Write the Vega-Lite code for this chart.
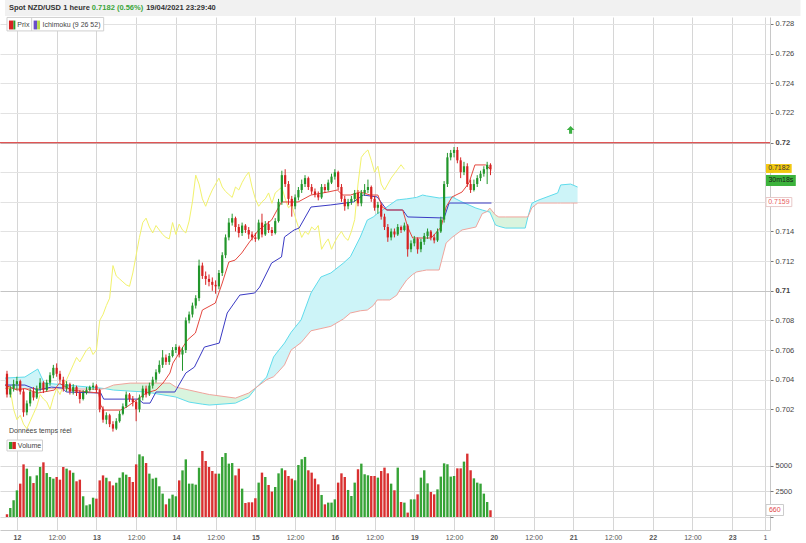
{
"$schema": "https://vega.github.io/schema/vega-lite/v6.json",
"width": 770, "height": 513,
"autosize": "none",
"padding": {"left": 0, "top": 17, "right": 36, "bottom": 13},
"background": "white",
"config": {"view": {"stroke": null}, "font": "Liberation Sans", "axis": {"labelOverlap": false, "labelSeparation": 0}},
"datasets": {
"candles": [
{"t":-3,"o":0.7044,"h":0.7046,"l":0.7028,"c":0.703,"v":270},
{"t":-2,"o":0.703,"h":0.7036,"l":0.7028,"c":0.7034,"v":880},
{"t":-1,"o":0.7034,"h":0.704,"l":0.7032,"c":0.7037,"v":1630},
{"t":0,"o":0.7037,"h":0.7042,"l":0.7033,"c":0.7039,"v":2610},
{"t":1,"o":0.7039,"h":0.704,"l":0.703,"c":0.7032,"v":3270},
{"t":2,"o":0.7032,"h":0.7034,"l":0.7015,"c":0.7018,"v":5160},
{"t":3,"o":0.7018,"h":0.7026,"l":0.7016,"c":0.7024,"v":4740},
{"t":4,"o":0.7024,"h":0.7034,"l":0.7022,"c":0.7032,"v":3990},
{"t":5,"o":0.7032,"h":0.7035,"l":0.7026,"c":0.7028,"v":3330},
{"t":6,"o":0.7028,"h":0.7036,"l":0.7027,"c":0.7034,"v":4080},
{"t":7,"o":0.7034,"h":0.7041,"l":0.7032,"c":0.7038,"v":4900},
{"t":8,"o":0.7038,"h":0.7039,"l":0.7031,"c":0.7033,"v":5360},
{"t":9,"o":0.7033,"h":0.704,"l":0.7032,"c":0.7038,"v":4310},
{"t":10,"o":0.7038,"h":0.7045,"l":0.7036,"c":0.7043,"v":3920},
{"t":11,"o":0.7043,"h":0.705,"l":0.7041,"c":0.7048,"v":3760},
{"t":12,"o":0.7048,"h":0.7051,"l":0.7042,"c":0.7044,"v":3920},
{"t":13,"o":0.7044,"h":0.7046,"l":0.7038,"c":0.704,"v":3660},
{"t":14,"o":0.704,"h":0.7042,"l":0.7032,"c":0.7034,"v":4900},
{"t":15,"o":0.7034,"h":0.7039,"l":0.7032,"c":0.7037,"v":4740},
{"t":16,"o":0.7037,"h":0.7038,"l":0.703,"c":0.7032,"v":4570},
{"t":17,"o":0.7032,"h":0.7037,"l":0.703,"c":0.7035,"v":4340},
{"t":18,"o":0.7035,"h":0.7036,"l":0.7029,"c":0.7031,"v":3500},
{"t":19,"o":0.7031,"h":0.7033,"l":0.7024,"c":0.7027,"v":3660},
{"t":20,"o":0.7027,"h":0.7033,"l":0.7026,"c":0.7031,"v":2030},
{"t":21,"o":0.7031,"h":0.7035,"l":0.703,"c":0.7033,"v":1140},
{"t":22,"o":0.7033,"h":0.7036,"l":0.7032,"c":0.7035,"v":1240},
{"t":23,"o":0.7035,"h":0.7038,"l":0.7033,"c":0.7036,"v":1890},
{"t":24,"o":0.7036,"h":0.7037,"l":0.7031,"c":0.7033,"v":1800},
{"t":25,"o":0.7033,"h":0.7034,"l":0.7018,"c":0.702,"v":3590},
{"t":26,"o":0.702,"h":0.7022,"l":0.7011,"c":0.7013,"v":4080},
{"t":27,"o":0.7013,"h":0.7018,"l":0.701,"c":0.7016,"v":3850},
{"t":28,"o":0.7016,"h":0.7017,"l":0.7008,"c":0.701,"v":3500},
{"t":29,"o":0.701,"h":0.7012,"l":0.7005,"c":0.7007,"v":3100},
{"t":30,"o":0.7007,"h":0.7014,"l":0.7006,"c":0.7012,"v":3360},
{"t":31,"o":0.7012,"h":0.7019,"l":0.7011,"c":0.7017,"v":3850},
{"t":32,"o":0.7017,"h":0.7024,"l":0.7016,"c":0.7022,"v":4380},
{"t":33,"o":0.7022,"h":0.7032,"l":0.7021,"c":0.703,"v":4150},
{"t":34,"o":0.703,"h":0.7031,"l":0.7025,"c":0.7027,"v":3920},
{"t":35,"o":0.7027,"h":0.7029,"l":0.7022,"c":0.7025,"v":3430},
{"t":36,"o":0.7025,"h":0.7026,"l":0.7012,"c":0.702,"v":5160},
{"t":37,"o":0.702,"h":0.703,"l":0.7018,"c":0.7028,"v":6140},
{"t":38,"o":0.7028,"h":0.7036,"l":0.7026,"c":0.7034,"v":5950},
{"t":39,"o":0.7034,"h":0.7036,"l":0.7028,"c":0.703,"v":5290},
{"t":40,"o":0.703,"h":0.7038,"l":0.7029,"c":0.7036,"v":4250},
{"t":41,"o":0.7036,"h":0.7042,"l":0.7034,"c":0.704,"v":3760},
{"t":42,"o":0.704,"h":0.7047,"l":0.7038,"c":0.7045,"v":3850},
{"t":43,"o":0.7045,"h":0.7053,"l":0.7044,"c":0.705,"v":3010},
{"t":44,"o":0.705,"h":0.706,"l":0.7048,"c":0.7055,"v":2290},
{"t":45,"o":0.7055,"h":0.7057,"l":0.705,"c":0.7052,"v":1240},
{"t":46,"o":0.7052,"h":0.7058,"l":0.705,"c":0.7056,"v":1800},
{"t":47,"o":0.7056,"h":0.7062,"l":0.7055,"c":0.706,"v":2190},
{"t":48,"o":0.706,"h":0.7064,"l":0.7058,"c":0.7062,"v":2030},
{"t":49,"o":0.7062,"h":0.7063,"l":0.7055,"c":0.7057,"v":3590},
{"t":50,"o":0.7057,"h":0.7062,"l":0.7046,"c":0.706,"v":4570},
{"t":51,"o":0.706,"h":0.7082,"l":0.7058,"c":0.708,"v":5650},
{"t":52,"o":0.708,"h":0.7086,"l":0.7078,"c":0.7084,"v":3270},
{"t":53,"o":0.7084,"h":0.7092,"l":0.7082,"c":0.709,"v":3270},
{"t":54,"o":0.709,"h":0.7097,"l":0.7088,"c":0.7095,"v":3170},
{"t":55,"o":0.7095,"h":0.7121,"l":0.7093,"c":0.7117,"v":4830},
{"t":56,"o":0.7117,"h":0.7119,"l":0.7108,"c":0.711,"v":6470},
{"t":57,"o":0.711,"h":0.7113,"l":0.7104,"c":0.7108,"v":5490},
{"t":58,"o":0.7108,"h":0.7111,"l":0.7103,"c":0.7106,"v":4900},
{"t":59,"o":0.7106,"h":0.7109,"l":0.71,"c":0.7104,"v":4510},
{"t":60,"o":0.7104,"h":0.7107,"l":0.7098,"c":0.7103,"v":4250},
{"t":61,"o":0.7103,"h":0.7114,"l":0.7101,"c":0.7112,"v":4250},
{"t":62,"o":0.7112,"h":0.7126,"l":0.711,"c":0.7124,"v":5880},
{"t":63,"o":0.7124,"h":0.7138,"l":0.7122,"c":0.7136,"v":6270},
{"t":64,"o":0.7136,"h":0.7149,"l":0.7134,"c":0.7146,"v":5230},
{"t":65,"o":0.7146,"h":0.7152,"l":0.7144,"c":0.7149,"v":5290},
{"t":66,"o":0.7149,"h":0.715,"l":0.714,"c":0.7143,"v":4080},
{"t":67,"o":0.7143,"h":0.7145,"l":0.7136,"c":0.7139,"v":4740},
{"t":68,"o":0.7139,"h":0.7146,"l":0.7137,"c":0.7144,"v":2780},
{"t":69,"o":0.7144,"h":0.7145,"l":0.7139,"c":0.7141,"v":1370},
{"t":70,"o":0.7141,"h":0.7143,"l":0.7135,"c":0.7138,"v":1440},
{"t":71,"o":0.7138,"h":0.714,"l":0.7134,"c":0.7136,"v":1440},
{"t":72,"o":0.7136,"h":0.7139,"l":0.7133,"c":0.7135,"v":1830},
{"t":73,"o":0.7135,"h":0.7148,"l":0.7134,"c":0.7146,"v":3370},
{"t":74,"o":0.7146,"h":0.7152,"l":0.7136,"c":0.7138,"v":4350},
{"t":75,"o":0.7138,"h":0.7147,"l":0.7137,"c":0.7145,"v":3920},
{"t":76,"o":0.7145,"h":0.7147,"l":0.7139,"c":0.7141,"v":3140},
{"t":77,"o":0.7141,"h":0.7143,"l":0.7137,"c":0.7139,"v":2490},
{"t":78,"o":0.7139,"h":0.7149,"l":0.7138,"c":0.7147,"v":2940},
{"t":79,"o":0.7147,"h":0.7162,"l":0.7146,"c":0.716,"v":4280},
{"t":80,"o":0.716,"h":0.7181,"l":0.7158,"c":0.7178,"v":4770},
{"t":81,"o":0.7178,"h":0.7182,"l":0.717,"c":0.7172,"v":4580},
{"t":82,"o":0.7172,"h":0.7174,"l":0.7158,"c":0.7162,"v":4020},
{"t":83,"o":0.7162,"h":0.7164,"l":0.715,"c":0.7157,"v":3760},
{"t":84,"o":0.7157,"h":0.7165,"l":0.7155,"c":0.7163,"v":3600},
{"t":85,"o":0.7163,"h":0.717,"l":0.7161,"c":0.7168,"v":5100},
{"t":86,"o":0.7168,"h":0.7175,"l":0.7166,"c":0.7172,"v":5660},
{"t":87,"o":0.7172,"h":0.7178,"l":0.717,"c":0.7176,"v":5890},
{"t":88,"o":0.7176,"h":0.7177,"l":0.7168,"c":0.717,"v":4580},
{"t":89,"o":0.717,"h":0.7172,"l":0.7165,"c":0.7167,"v":4350},
{"t":90,"o":0.7167,"h":0.7169,"l":0.7163,"c":0.7165,"v":3760},
{"t":91,"o":0.7165,"h":0.7167,"l":0.7161,"c":0.7163,"v":3200},
{"t":92,"o":0.7163,"h":0.7172,"l":0.7162,"c":0.717,"v":2160},
{"t":93,"o":0.717,"h":0.7172,"l":0.7166,"c":0.7168,"v":1240},
{"t":94,"o":0.7168,"h":0.7175,"l":0.7167,"c":0.7173,"v":1410},
{"t":95,"o":0.7173,"h":0.7179,"l":0.7172,"c":0.7177,"v":1410},
{"t":96,"o":0.7177,"h":0.7182,"l":0.7175,"c":0.718,"v":1730},
{"t":97,"o":0.718,"h":0.7181,"l":0.7168,"c":0.717,"v":3370},
{"t":98,"o":0.717,"h":0.7172,"l":0.716,"c":0.7162,"v":4280},
{"t":99,"o":0.7162,"h":0.7164,"l":0.7154,"c":0.7157,"v":3920},
{"t":100,"o":0.7157,"h":0.7162,"l":0.7155,"c":0.716,"v":2650},
{"t":101,"o":0.716,"h":0.7164,"l":0.7158,"c":0.7162,"v":2060},
{"t":102,"o":0.7162,"h":0.7168,"l":0.716,"c":0.7166,"v":3370},
{"t":103,"o":0.7166,"h":0.7168,"l":0.7157,"c":0.7159,"v":4680},
{"t":104,"o":0.7159,"h":0.7168,"l":0.7157,"c":0.7166,"v":5230},
{"t":105,"o":0.7166,"h":0.7172,"l":0.7164,"c":0.7168,"v":4190},
{"t":106,"o":0.7168,"h":0.7175,"l":0.7166,"c":0.717,"v":4090},
{"t":107,"o":0.717,"h":0.7171,"l":0.716,"c":0.7162,"v":4020},
{"t":108,"o":0.7162,"h":0.7164,"l":0.7154,"c":0.7156,"v":4020},
{"t":109,"o":0.7156,"h":0.716,"l":0.7152,"c":0.7158,"v":3860},
{"t":110,"o":0.7158,"h":0.7159,"l":0.7148,"c":0.715,"v":4510},
{"t":111,"o":0.715,"h":0.7152,"l":0.7141,"c":0.7143,"v":4840},
{"t":112,"o":0.7143,"h":0.7145,"l":0.7133,"c":0.7136,"v":4280},
{"t":113,"o":0.7136,"h":0.7142,"l":0.7134,"c":0.714,"v":3270},
{"t":114,"o":0.714,"h":0.7142,"l":0.7136,"c":0.7138,"v":2620},
{"t":115,"o":0.7138,"h":0.7145,"l":0.7137,"c":0.7143,"v":4840},
{"t":116,"o":0.7143,"h":0.7144,"l":0.7139,"c":0.7141,"v":1470},
{"t":117,"o":0.7141,"h":0.7146,"l":0.714,"c":0.7144,"v":1410},
{"t":118,"o":0.7144,"h":0.7145,"l":0.7123,"c":0.7128,"v":430},
{"t":119,"o":0.7128,"h":0.7134,"l":0.7126,"c":0.7132,"v":1730},
{"t":120,"o":0.7132,"h":0.7137,"l":0.713,"c":0.7135,"v":1730},
{"t":121,"o":0.7135,"h":0.7136,"l":0.7125,"c":0.7128,"v":2220},
{"t":122,"o":0.7128,"h":0.7135,"l":0.7126,"c":0.7133,"v":3860},
{"t":123,"o":0.7133,"h":0.7139,"l":0.7131,"c":0.7137,"v":4580},
{"t":124,"o":0.7137,"h":0.7142,"l":0.7135,"c":0.714,"v":3300},
{"t":125,"o":0.714,"h":0.7141,"l":0.7134,"c":0.7136,"v":2450},
{"t":126,"o":0.7136,"h":0.7138,"l":0.7132,"c":0.7134,"v":2220},
{"t":127,"o":0.7134,"h":0.7142,"l":0.7133,"c":0.714,"v":2710},
{"t":128,"o":0.714,"h":0.715,"l":0.7139,"c":0.7148,"v":3960},
{"t":129,"o":0.7148,"h":0.7174,"l":0.7146,"c":0.7172,"v":5260},
{"t":130,"o":0.7172,"h":0.7193,"l":0.717,"c":0.719,"v":5170},
{"t":131,"o":0.719,"h":0.7195,"l":0.7188,"c":0.7193,"v":3960},
{"t":132,"o":0.7193,"h":0.7197,"l":0.719,"c":0.7195,"v":4020},
{"t":133,"o":0.7195,"h":0.7197,"l":0.7186,"c":0.7188,"v":4770},
{"t":134,"o":0.7188,"h":0.719,"l":0.7176,"c":0.718,"v":4770},
{"t":135,"o":0.718,"h":0.7187,"l":0.7178,"c":0.7184,"v":5430},
{"t":136,"o":0.7184,"h":0.7186,"l":0.717,"c":0.7172,"v":6210},
{"t":137,"o":0.7172,"h":0.7175,"l":0.7166,"c":0.7168,"v":4580},
{"t":138,"o":0.7168,"h":0.7175,"l":0.7167,"c":0.7172,"v":3790},
{"t":139,"o":0.7172,"h":0.7178,"l":0.717,"c":0.7176,"v":3370},
{"t":140,"o":0.7176,"h":0.7181,"l":0.7174,"c":0.7179,"v":3270},
{"t":141,"o":0.7179,"h":0.7184,"l":0.7177,"c":0.7182,"v":2290},
{"t":142,"o":0.7182,"h":0.7187,"l":0.7172,"c":0.7185,"v":1470},
{"t":143,"o":0.7185,"h":0.7186,"l":0.7178,"c":0.7182,"v":660}
],
"chikou": [
{"t":-3,"p":0.7036},{"t":-2,"p":0.7033},{"t":-1,"p":0.702},{"t":0,"p":0.7013},{"t":1,"p":0.7016},{"t":2,"p":0.701},{"t":3,"p":0.7007},{"t":4,"p":0.7012},{"t":5,"p":0.7017},{"t":6,"p":0.7022},{"t":7,"p":0.703},{"t":8,"p":0.7027},{"t":9,"p":0.7025},{"t":10,"p":0.702},{"t":11,"p":0.7028},{"t":12,"p":0.7034},{"t":13,"p":0.703},{"t":14,"p":0.7036},{"t":15,"p":0.704},{"t":16,"p":0.7045},{"t":17,"p":0.705},{"t":18,"p":0.7055},{"t":19,"p":0.7052},{"t":20,"p":0.7056},{"t":21,"p":0.706},{"t":22,"p":0.7062},{"t":23,"p":0.7057},{"t":24,"p":0.706},{"t":25,"p":0.708},{"t":26,"p":0.7084},{"t":27,"p":0.709},{"t":28,"p":0.7095},{"t":29,"p":0.7117},{"t":30,"p":0.711},{"t":31,"p":0.7108},{"t":32,"p":0.7106},{"t":33,"p":0.7104},{"t":34,"p":0.7103},{"t":35,"p":0.7112},{"t":36,"p":0.7124},{"t":37,"p":0.7136},{"t":38,"p":0.7146},{"t":39,"p":0.7149},{"t":40,"p":0.7143},{"t":41,"p":0.7139},{"t":42,"p":0.7144},{"t":43,"p":0.7141},{"t":44,"p":0.7138},{"t":45,"p":0.7136},{"t":46,"p":0.7135},{"t":47,"p":0.7146},{"t":48,"p":0.7138},{"t":49,"p":0.7145},{"t":50,"p":0.7141},{"t":51,"p":0.7139},{"t":52,"p":0.7147},{"t":53,"p":0.716},{"t":54,"p":0.7178},{"t":55,"p":0.7172},{"t":56,"p":0.7162},{"t":57,"p":0.7157},{"t":58,"p":0.7163},{"t":59,"p":0.7168},{"t":60,"p":0.7172},{"t":61,"p":0.7176},{"t":62,"p":0.717},{"t":63,"p":0.7167},{"t":64,"p":0.7165},{"t":65,"p":0.7163},{"t":66,"p":0.717},{"t":67,"p":0.7168},{"t":68,"p":0.7173},{"t":69,"p":0.7177},{"t":70,"p":0.718},{"t":71,"p":0.717},{"t":72,"p":0.7162},{"t":73,"p":0.7157},{"t":74,"p":0.716},{"t":75,"p":0.7162},{"t":76,"p":0.7166},{"t":77,"p":0.7159},{"t":78,"p":0.7166},{"t":79,"p":0.7168},{"t":80,"p":0.717},{"t":81,"p":0.7162},{"t":82,"p":0.7156},{"t":83,"p":0.7158},{"t":84,"p":0.715},{"t":85,"p":0.7143},{"t":86,"p":0.7136},{"t":87,"p":0.714},{"t":88,"p":0.7138},{"t":89,"p":0.7143},{"t":90,"p":0.7141},{"t":91,"p":0.7144},{"t":92,"p":0.7128},{"t":93,"p":0.7132},{"t":94,"p":0.7135},{"t":95,"p":0.7128},{"t":96,"p":0.7133},{"t":97,"p":0.7137},{"t":98,"p":0.714},{"t":99,"p":0.7136},{"t":100,"p":0.7134},{"t":101,"p":0.714},{"t":102,"p":0.7148},{"t":103,"p":0.7172},{"t":104,"p":0.719},{"t":105,"p":0.7193},{"t":106,"p":0.7195},{"t":107,"p":0.7188},{"t":108,"p":0.718},{"t":109,"p":0.7184},{"t":110,"p":0.7172},{"t":111,"p":0.7168},{"t":112,"p":0.7172},{"t":113,"p":0.7176},{"t":114,"p":0.7179},{"t":115,"p":0.7182},{"t":116,"p":0.7185},{"t":117,"p":0.7182}
],
"tenkan": [
{"t":-3.6,"p":0.70364},{"t":0,"p":0.7033},{"t":2.4,"p":0.7034},{"t":6.3,"p":0.7031},{"t":11.3,"p":0.7033},{"t":12.8,"p":0.70377},{"t":16.4,"p":0.7033},{"t":24.7,"p":0.7031},{"t":25.3,"p":0.70229},{"t":26.2,"p":0.70195},{"t":31.3,"p":0.70195},{"t":33.1,"p":0.70215},{"t":36.1,"p":0.70263},{"t":39,"p":0.7031},{"t":42,"p":0.7033},{"t":44.1,"p":0.70377},{"t":46.2,"p":0.70445},{"t":47.1,"p":0.70512},{"t":50.1,"p":0.7062},{"t":51.5,"p":0.70668},{"t":53.9,"p":0.70715},{"t":56,"p":0.7087},{"t":59.9,"p":0.70917},{"t":62,"p":0.71052},{"t":64,"p":0.71194},{"t":65.9,"p":0.71207},{"t":67.9,"p":0.71255},{"t":70,"p":0.71322},{"t":73,"p":0.7141},{"t":76.9,"p":0.71477},{"t":79.9,"p":0.71599},{"t":84.9,"p":0.71599},{"t":88.8,"p":0.71646},{"t":93.9,"p":0.71666},{"t":96.8,"p":0.7168},{"t":98.3,"p":0.71646},{"t":100.7,"p":0.71646},{"t":103.7,"p":0.71666},{"t":106.7,"p":0.71646},{"t":109,"p":0.71646},{"t":110.3,"p":0.71565},{"t":111.7,"p":0.71545},{"t":116.5,"p":0.71545},{"t":118,"p":0.7143},{"t":119.5,"p":0.71356},{"t":125.1,"p":0.71356},{"t":128.1,"p":0.7143},{"t":129.6,"p":0.71565},{"t":131.4,"p":0.71633},{"t":134.4,"p":0.71666},{"t":136.5,"p":0.71727},{"t":138.3,"p":0.71849},{"t":141.5,"p":0.71849},{"t":143.3,"p":0.71815}
],
"kijun": [
{"t":-3.6,"p":0.70364},{"t":2.4,"p":0.70364},{"t":6.3,"p":0.7033},{"t":10.4,"p":0.7035},{"t":13.7,"p":0.70344},{"t":14.9,"p":0.70317},{"t":25.3,"p":0.7031},{"t":26.2,"p":0.70269},{"t":36.7,"p":0.70269},{"t":38.1,"p":0.70242},{"t":40.2,"p":0.70242},{"t":42,"p":0.70317},{"t":47.7,"p":0.70317},{"t":51,"p":0.70445},{"t":53.6,"p":0.70485},{"t":56.6,"p":0.7062},{"t":61.1,"p":0.70647},{"t":63.5,"p":0.7085},{"t":67.3,"p":0.70971},{"t":71.8,"p":0.70985},{"t":73.3,"p":0.71025},{"t":76.9,"p":0.71187},{"t":79.9,"p":0.71228},{"t":80.8,"p":0.71363},{"t":83.7,"p":0.7141},{"t":85.2,"p":0.71423},{"t":88.8,"p":0.71565},{"t":94.8,"p":0.71579},{"t":101.6,"p":0.71599},{"t":104.6,"p":0.71646},{"t":108.8,"p":0.71633},{"t":111.7,"p":0.71545},{"t":116.5,"p":0.71545},{"t":118,"p":0.71498},{"t":129,"p":0.71491},{"t":130.5,"p":0.71592},{"t":143.3,"p":0.71592}
],
"cloud": [
{"t":-3.6,"a":0.70411,"b":0.7034,"k":"bull","s":"s1"},
{"t":2.4,"a":0.70418,"b":0.7034,"k":"bull","s":"s1"},
{"t":6.3,"a":0.70472,"b":0.7034,"k":"bull","s":"s1"},
{"t":7.4,"a":0.70418,"b":0.7034,"k":"bull","s":"s1"},
{"t":8.3,"a":0.70377,"b":0.7034,"k":"bull","s":"s1"},
{"t":25,"a":0.70344,"b":0.70335,"k":"bull","s":"s1"},
{"t":26.5,"a":0.7034,"b":0.7034,"k":"bull","s":"s1"},
{"t":26.5,"a":0.7034,"b":0.7034,"k":"bear","s":"s2"},
{"t":29.2,"a":0.7033,"b":0.70364,"k":"bear","s":"s2"},
{"t":34.2,"a":0.70323,"b":0.70377,"k":"bear","s":"s2"},
{"t":39,"a":0.70317,"b":0.70377,"k":"bear","s":"s2"},
{"t":46.2,"a":0.7029,"b":0.70377,"k":"bear","s":"s2"},
{"t":48,"a":0.70283,"b":0.7035,"k":"bear","s":"s2"},
{"t":52,"a":0.70249,"b":0.7033,"k":"bear","s":"s2"},
{"t":56,"a":0.70235,"b":0.7031,"k":"bear","s":"s2"},
{"t":58.1,"a":0.70229,"b":0.703,"k":"bear","s":"s2"},
{"t":66,"a":0.70242,"b":0.70276,"k":"bear","s":"s2"},
{"t":70,"a":0.70283,"b":0.7031,"k":"bear","s":"s2"},
{"t":72.4,"a":0.7035,"b":0.7035,"k":"bear","s":"s2"},
{"t":72.4,"a":0.7035,"b":0.7035,"k":"bull","s":"s3"},
{"t":75.4,"a":0.70418,"b":0.704,"k":"bull","s":"s3"},
{"t":77.5,"a":0.70553,"b":0.7042,"k":"bull","s":"s3"},
{"t":78.4,"a":0.7058,"b":0.7044,"k":"bull","s":"s3"},
{"t":80.8,"a":0.70647,"b":0.705,"k":"bull","s":"s3"},
{"t":82.8,"a":0.7072,"b":0.706,"k":"bull","s":"s3"},
{"t":85.8,"a":0.70803,"b":0.7065,"k":"bull","s":"s3"},
{"t":88.8,"a":0.70985,"b":0.7073,"k":"bull","s":"s3"},
{"t":91.8,"a":0.71093,"b":0.70745,"k":"bull","s":"s3"},
{"t":94.8,"a":0.7112,"b":0.7076,"k":"bull","s":"s3"},
{"t":98.6,"a":0.71187,"b":0.7081,"k":"bull","s":"s3"},
{"t":100.7,"a":0.7123,"b":0.7085,"k":"bull","s":"s3"},
{"t":103.7,"a":0.71363,"b":0.70865,"k":"bull","s":"s3"},
{"t":105.8,"a":0.71477,"b":0.7087,"k":"bull","s":"s3"},
{"t":107.6,"a":0.71498,"b":0.709,"k":"bull","s":"s3"},
{"t":108.8,"a":0.7152,"b":0.70938,"k":"bull","s":"s3"},
{"t":110.5,"a":0.71545,"b":0.70938,"k":"bull","s":"s3"},
{"t":112.6,"a":0.71579,"b":0.70938,"k":"bull","s":"s3"},
{"t":114.7,"a":0.71612,"b":0.7097,"k":"bull","s":"s3"},
{"t":115.6,"a":0.71615,"b":0.71005,"k":"bull","s":"s3"},
{"t":117.7,"a":0.7162,"b":0.71073,"k":"bull","s":"s3"},
{"t":119.5,"a":0.71626,"b":0.7111,"k":"bull","s":"s3"},
{"t":120.7,"a":0.7163,"b":0.71127,"k":"bull","s":"s3"},
{"t":122.5,"a":0.71646,"b":0.71135,"k":"bull","s":"s3"},
{"t":123.7,"a":0.7164,"b":0.7114,"k":"bull","s":"s3"},
{"t":127.5,"a":0.71626,"b":0.7114,"k":"bull","s":"s3"},
{"t":129.6,"a":0.7163,"b":0.71322,"k":"bull","s":"s3"},
{"t":131.4,"a":0.71633,"b":0.7136,"k":"bull","s":"s3"},
{"t":134.4,"a":0.71599,"b":0.7141,"k":"bull","s":"s3"},
{"t":138.6,"a":0.71558,"b":0.7143,"k":"bull","s":"s3"},
{"t":140.5,"a":0.71545,"b":0.7152,"k":"bull","s":"s3"},
{"t":142,"a":0.71535,"b":0.71535,"k":"bull","s":"s3"},
{"t":142,"a":0.71535,"b":0.71535,"k":"bear","s":"s4"},
{"t":142.8,"a":0.71531,"b":0.71558,"k":"bear","s":"s4"},
{"t":144.5,"a":0.71444,"b":0.71511,"k":"bear","s":"s4"},
{"t":145.5,"a":0.71435,"b":0.71498,"k":"bear","s":"s4"},
{"t":147.5,"a":0.71423,"b":0.71498,"k":"bear","s":"s4"},
{"t":153.5,"a":0.71423,"b":0.71498,"k":"bear","s":"s4"},
{"t":154.3,"a":0.71498,"b":0.71498,"k":"bear","s":"s4"},
{"t":154.3,"a":0.71498,"b":0.71498,"k":"bull","s":"s5"},
{"t":155.5,"a":0.7159,"b":0.7156,"k":"bull","s":"s5"},
{"t":157.3,"a":0.7161,"b":0.71592,"k":"bull","s":"s5"},
{"t":163.3,"a":0.7166,"b":0.71592,"k":"bull","s":"s5"},
{"t":164.2,"a":0.71714,"b":0.71592,"k":"bull","s":"s5"},
{"t":167.2,"a":0.7172,"b":0.71592,"k":"bull","s":"s5"},
{"t":169.3,"a":0.717,"b":0.71592,"k":"bull","s":"s5"}
]
},
"layer": [
{"layer": [
{"data": {"name": "cloud"}, "mark": {"type": "area", "opacity": 1},
 "encoding": {
  "x": {"field": "t", "type": "quantitative", "scale": {"domain": [-3.6, 225.9], "nice": false, "zero": false},
   "axis": {"title": null, "values": [0,12,24,36,48,60,72,84,96,108,120,132,144,156,168,180,192,204,216,225.9], "tickCount": 50, "grid": true, "gridColor": "#d6d6d6", "domain": true, "domainColor": "#c8c8c8", "ticks": false, "labelFontSize": 7, "labelColor": "#555555", "labelPadding": 3, "labelFlush": false, "labelOverlap": false,
    "labelExpr": "datum.value > 220 ? '1' : (datum.value % 24 == 0 ? ['12','13','14','15','16','19','20','21','22','23'][datum.value / 24] : '12:00')",
    "labelFontWeight": {"condition": {"test": "datum.value % 24 == 0", "value": "bold"}, "value": "normal"}}},
  "y": {"field": "a", "type": "quantitative", "stack": null, "scale": {"domain": [0.69386, 0.72847], "nice": false, "zero": false},
   "axis": {"title": null, "orient": "right", "values": [0.702,0.704,0.706,0.708,0.71,0.712,0.714,0.716,0.718,0.72,0.722,0.724,0.726,0.728], "tickCount": 50, "grid": true,
    "gridColor": {"condition": {"test": "abs(datum.value-0.72)<0.0001 || abs(datum.value-0.71)<0.0001", "value": "#c4c4c4"}, "value": "#e2e2e2"},
    "domain": true, "domainColor": "#c8c8c8", "tickSize": 3, "tickColor": "#777777", "labelFontSize": 7.5, "labelColor": "#444444", "labelPadding": 2, "labelOverlap": false,
    "labelExpr": "(abs(datum.value-0.716)<0.0001 || abs(datum.value-0.718)<0.0001) ? '' : format(datum.value, '.3~f')",
    "labelFontWeight": {"condition": {"test": "abs(datum.value-0.72)<0.0001 || abs(datum.value-0.71)<0.0001", "value": "bold"}, "value": "normal"}}},
  "y2": {"field": "b"},
  "color": {"field": "k", "type": "nominal", "scale": {"domain": ["bull", "bear"], "range": ["#cdf4f8", "#d9f4de"]}, "legend": null},
  "detail": {"field": "s"}}},
{"data": {"name": "cloud"}, "mark": {"type": "line", "color": "#5fdcec", "strokeWidth": 1},
 "encoding": {"x": {"field": "t", "type": "quantitative", "scale": {"domain": [-3.6, 225.9], "nice": false, "zero": false}},
  "y": {"field": "a", "type": "quantitative", "scale": {"domain": [0.69386, 0.72847], "nice": false, "zero": false}}}},
{"data": {"name": "cloud"}, "mark": {"type": "line", "color": "#f0a49c", "strokeWidth": 1},
 "encoding": {"x": {"field": "t", "type": "quantitative", "scale": {"domain": [-3.6, 225.9], "nice": false, "zero": false}},
  "y": {"field": "b", "type": "quantitative", "scale": {"domain": [0.69386, 0.72847], "nice": false, "zero": false}}}},
{"data": {"name": "chikou"}, "mark": {"type": "line", "color": "#f2f26c", "strokeWidth": 1},
 "encoding": {"x": {"field": "t", "type": "quantitative", "scale": {"domain": [-3.6, 225.9], "nice": false, "zero": false}},
  "y": {"field": "p", "type": "quantitative", "scale": {"domain": [0.69386, 0.72847], "nice": false, "zero": false}}}},
{"data": {"name": "kijun"}, "mark": {"type": "line", "color": "#3a3ac4", "strokeWidth": 1},
 "encoding": {"x": {"field": "t", "type": "quantitative", "scale": {"domain": [-3.6, 225.9], "nice": false, "zero": false}},
  "y": {"field": "p", "type": "quantitative", "scale": {"domain": [0.69386, 0.72847], "nice": false, "zero": false}}}},
{"data": {"name": "tenkan"}, "mark": {"type": "line", "color": "#e5483f", "strokeWidth": 1},
 "encoding": {"x": {"field": "t", "type": "quantitative", "scale": {"domain": [-3.6, 225.9], "nice": false, "zero": false}},
  "y": {"field": "p", "type": "quantitative", "scale": {"domain": [0.69386, 0.72847], "nice": false, "zero": false}}}},
{"data": {"values": [{}]}, "mark": {"type": "rule", "color": "#e05555", "strokeWidth": 1.2},
 "encoding": {"y": {"datum": 0.72, "type": "quantitative", "scale": {"domain": [0.69386, 0.72847], "nice": false, "zero": false}}}},
{"data": {"name": "candles"}, "mark": {"type": "rule", "strokeWidth": 1},
 "encoding": {"x": {"field": "t", "type": "quantitative", "scale": {"domain": [-3.6, 225.9], "nice": false, "zero": false}},
  "y": {"field": "l", "type": "quantitative", "scale": {"domain": [0.69386, 0.72847], "nice": false, "zero": false}},
  "y2": {"field": "h"},
  "color": {"condition": {"test": "datum.c < datum.o", "value": "#d62222"}, "value": "#22962b"}}},
{"data": {"name": "candles"}, "mark": {"type": "bar", "width": 2.2},
 "encoding": {"x": {"field": "t", "type": "quantitative", "scale": {"domain": [-3.6, 225.9], "nice": false, "zero": false}},
  "y": {"field": "o", "type": "quantitative", "scale": {"domain": [0.69386, 0.72847], "nice": false, "zero": false}},
  "y2": {"field": "c"},
  "color": {"condition": {"test": "datum.c < datum.o", "value": "#d62222"}, "value": "#22962b"}}},
{"data": {"values": [{}]}, "mark": {"type": "point", "shape": "M0,-1L1,0L0.4,0L0.4,1L-0.4,1L-0.4,0L-1,0Z", "filled": true, "color": "#3cb043", "opacity": 1, "size": 60},
 "encoding": {"x": {"datum": 167.2, "type": "quantitative", "scale": {"domain": [-3.6, 225.9], "nice": false, "zero": false}},
  "y": {"datum": 0.72085, "type": "quantitative", "scale": {"domain": [0.69386, 0.72847], "nice": false, "zero": false}}}},
{"data": {"values": [{}]}, "mark": {"type": "rect", "color": "#f1f1f1"},
 "encoding": {"x": {"datum": -3.6, "type": "quantitative", "scale": {"domain": [-3.6, 225.9], "nice": false, "zero": false}}, "x2": {"datum": 236.63},
  "y": {"datum": 0.72962, "type": "quantitative", "scale": {"domain": [0.69386, 0.72847], "nice": false, "zero": false}}, "y2": {"datum": 0.72854}}},
{"data": {"values": [{}]}, "mark": {"type": "text", "text": "Spot NZD/USD", "align": "left", "baseline": "middle", "fontSize": 7.5, "fontWeight": "bold", "color": "#333333"},
 "encoding": {"x": {"datum": -2.41, "type": "quantitative", "scale": {"domain": [-3.6, 225.9], "nice": false, "zero": false}},
  "y": {"datum": 0.72911, "type": "quantitative", "scale": {"domain": [0.69386, 0.72847], "nice": false, "zero": false}}}},
{"data": {"values": [{}]}, "mark": {"type": "text", "text": "1 heure", "align": "left", "baseline": "middle", "fontSize": 7.5, "fontWeight": "bold", "color": "#333333"},
 "encoding": {"x": {"datum": 13.99, "type": "quantitative", "scale": {"domain": [-3.6, 225.9], "nice": false, "zero": false}},
  "y": {"datum": 0.72911, "type": "quantitative", "scale": {"domain": [0.69386, 0.72847], "nice": false, "zero": false}}}},
{"data": {"values": [{}]}, "mark": {"type": "text", "text": "0.7182 (0.56%)", "align": "left", "baseline": "middle", "fontSize": 7.5, "fontWeight": "bold", "color": "#3aa53a"},
 "encoding": {"x": {"datum": 22.63, "type": "quantitative", "scale": {"domain": [-3.6, 225.9], "nice": false, "zero": false}},
  "y": {"datum": 0.72911, "type": "quantitative", "scale": {"domain": [0.69386, 0.72847], "nice": false, "zero": false}}}},
{"data": {"values": [{}]}, "mark": {"type": "text", "text": "19/04/2021 23:29:40", "align": "left", "baseline": "middle", "fontSize": 7.5, "fontWeight": "bold", "color": "#333333"},
 "encoding": {"x": {"datum": 39.02, "type": "quantitative", "scale": {"domain": [-3.6, 225.9], "nice": false, "zero": false}},
  "y": {"datum": 0.72911, "type": "quantitative", "scale": {"domain": [0.69386, 0.72847], "nice": false, "zero": false}}}},
{"data": {"values": [{}]}, "mark": {"type": "rect", "fill": "white", "stroke": "#cfcfcf", "strokeWidth": 1},
 "encoding": {"x": {"datum": -3.0, "type": "quantitative", "scale": {"domain": [-3.6, 225.9], "nice": false, "zero": false}}, "x2": {"datum": 26.2},
  "y": {"datum": 0.72844, "type": "quantitative", "scale": {"domain": [0.69386, 0.72847], "nice": false, "zero": false}}, "y2": {"datum": 0.72753}}},
{"data": {"values": [{}]}, "mark": {"type": "rule", "color": "#cfcfcf", "strokeWidth": 1},
 "encoding": {"x": {"datum": 4.45, "type": "quantitative", "scale": {"domain": [-3.6, 225.9], "nice": false, "zero": false}},
  "y": {"datum": 0.72844, "type": "quantitative", "scale": {"domain": [0.69386, 0.72847], "nice": false, "zero": false}}, "y2": {"datum": 0.72753}}},
{"data": {"values": [{}]}, "mark": {"type": "rect", "color": "#d62222"},
 "encoding": {"x": {"datum": -2.41, "type": "quantitative", "scale": {"domain": [-3.6, 225.9], "nice": false, "zero": false}}, "x2": {"datum": -1.07},
  "y": {"datum": 0.72823, "type": "quantitative", "scale": {"domain": [0.69386, 0.72847], "nice": false, "zero": false}}, "y2": {"datum": 0.72763}}},
{"data": {"values": [{}]}, "mark": {"type": "rect", "color": "#2c9e2c"},
 "encoding": {"x": {"datum": -1.07, "type": "quantitative", "scale": {"domain": [-3.6, 225.9], "nice": false, "zero": false}}, "x2": {"datum": -0.47},
  "y": {"datum": 0.72823, "type": "quantitative", "scale": {"domain": [0.69386, 0.72847], "nice": false, "zero": false}}, "y2": {"datum": 0.72763}}},
{"data": {"values": [{}]}, "mark": {"type": "rect", "color": "#6a4fc8"},
 "encoding": {"x": {"datum": 5.04, "type": "quantitative", "scale": {"domain": [-3.6, 225.9], "nice": false, "zero": false}}, "x2": {"datum": 6.09},
  "y": {"datum": 0.72823, "type": "quantitative", "scale": {"domain": [0.69386, 0.72847], "nice": false, "zero": false}}, "y2": {"datum": 0.72763}}},
{"data": {"values": [{}]}, "mark": {"type": "rect", "color": "#b5d94a"},
 "encoding": {"x": {"datum": 6.09, "type": "quantitative", "scale": {"domain": [-3.6, 225.9], "nice": false, "zero": false}}, "x2": {"datum": 6.98},
  "y": {"datum": 0.72823, "type": "quantitative", "scale": {"domain": [0.69386, 0.72847], "nice": false, "zero": false}}, "y2": {"datum": 0.72763}}},
{"data": {"values": [{}]}, "mark": {"type": "text", "text": "Prix", "align": "left", "baseline": "middle", "fontSize": 7, "color": "#444444"},
 "encoding": {"x": {"datum": 0.13, "type": "quantitative", "scale": {"domain": [-3.6, 225.9], "nice": false, "zero": false}},
  "y": {"datum": 0.72796, "type": "quantitative", "scale": {"domain": [0.69386, 0.72847], "nice": false, "zero": false}}}},
{"data": {"values": [{}]}, "mark": {"type": "text", "text": "Ichimoku (9 26 52)", "align": "left", "baseline": "middle", "fontSize": 7, "color": "#444444"},
 "encoding": {"x": {"datum": 7.73, "type": "quantitative", "scale": {"domain": [-3.6, 225.9], "nice": false, "zero": false}},
  "y": {"datum": 0.72796, "type": "quantitative", "scale": {"domain": [0.69386, 0.72847], "nice": false, "zero": false}}}},
{"data": {"values": [{}]}, "mark": {"type": "text", "text": "Données temps réel", "align": "left", "baseline": "middle", "fontSize": 7, "color": "#444444"},
 "encoding": {"x": {"datum": -2.41, "type": "quantitative", "scale": {"domain": [-3.6, 225.9], "nice": false, "zero": false}},
  "y": {"datum": 0.70054, "type": "quantitative", "scale": {"domain": [0.69386, 0.72847], "nice": false, "zero": false}}}},
{"data": {"values": [{}]}, "mark": {"type": "rect", "fill": "white", "stroke": "#cfcfcf", "strokeWidth": 1},
 "encoding": {"x": {"datum": -3.0, "type": "quantitative", "scale": {"domain": [-3.6, 225.9], "nice": false, "zero": false}}, "x2": {"datum": 7.73},
  "y": {"datum": 0.69993, "type": "quantitative", "scale": {"domain": [0.69386, 0.72847], "nice": false, "zero": false}}, "y2": {"datum": 0.69919}}},
{"data": {"values": [{}]}, "mark": {"type": "rect", "color": "#2c9e2c"},
 "encoding": {"x": {"datum": -2.41, "type": "quantitative", "scale": {"domain": [-3.6, 225.9], "nice": false, "zero": false}}, "x2": {"datum": -1.37},
  "y": {"datum": 0.6998, "type": "quantitative", "scale": {"domain": [0.69386, 0.72847], "nice": false, "zero": false}}, "y2": {"datum": 0.69932}}},
{"data": {"values": [{}]}, "mark": {"type": "rect", "color": "#d62222"},
 "encoding": {"x": {"datum": -1.37, "type": "quantitative", "scale": {"domain": [-3.6, 225.9], "nice": false, "zero": false}}, "x2": {"datum": -0.32},
  "y": {"datum": 0.6998, "type": "quantitative", "scale": {"domain": [0.69386, 0.72847], "nice": false, "zero": false}}, "y2": {"datum": 0.69932}}},
{"data": {"values": [{}]}, "mark": {"type": "text", "text": "Volume", "align": "left", "baseline": "middle", "fontSize": 7, "color": "#444444"},
 "encoding": {"x": {"datum": 0.28, "type": "quantitative", "scale": {"domain": [-3.6, 225.9], "nice": false, "zero": false}},
  "y": {"datum": 0.69956, "type": "quantitative", "scale": {"domain": [0.69386, 0.72847], "nice": false, "zero": false}}}},
{"data": {"values": [{}]}, "mark": {"type": "rect", "color": "#f2c811"},
 "encoding": {"x": {"datum": 226.2, "type": "quantitative", "scale": {"domain": [-3.6, 225.9], "nice": false, "zero": false}}, "x2": {"datum": 233.96},
  "y": {"datum": 0.71855, "type": "quantitative", "scale": {"domain": [0.69386, 0.72847], "nice": false, "zero": false}}, "y2": {"datum": 0.71795}}},
{"data": {"values": [{}]}, "mark": {"type": "text", "text": "0.7182", "align": "center", "baseline": "middle", "fontSize": 7, "color": "#333333"},
 "encoding": {"x": {"datum": 230.08, "type": "quantitative", "scale": {"domain": [-3.6, 225.9], "nice": false, "zero": false}},
  "y": {"datum": 0.71825, "type": "quantitative", "scale": {"domain": [0.69386, 0.72847], "nice": false, "zero": false}}}},
{"data": {"values": [{}]}, "mark": {"type": "rect", "color": "#3cb33c"},
 "encoding": {"x": {"datum": 226.2, "type": "quantitative", "scale": {"domain": [-3.6, 225.9], "nice": false, "zero": false}}, "x2": {"datum": 235.2},
  "y": {"datum": 0.71781, "type": "quantitative", "scale": {"domain": [0.69386, 0.72847], "nice": false, "zero": false}}, "y2": {"datum": 0.71707}}},
{"data": {"values": [{}]}, "mark": {"type": "text", "text": "30m18s", "align": "center", "baseline": "middle", "fontSize": 7, "color": "#1a1a1a"},
 "encoding": {"x": {"datum": 230.7, "type": "quantitative", "scale": {"domain": [-3.6, 225.9], "nice": false, "zero": false}},
  "y": {"datum": 0.71744, "type": "quantitative", "scale": {"domain": [0.69386, 0.72847], "nice": false, "zero": false}}}},
{"data": {"values": [{}]}, "mark": {"type": "rect", "fill": "white", "stroke": "#e8c8c8", "strokeWidth": 1},
 "encoding": {"x": {"datum": 226.2, "type": "quantitative", "scale": {"domain": [-3.6, 225.9], "nice": false, "zero": false}}, "x2": {"datum": 234.0},
  "y": {"datum": 0.71629, "type": "quantitative", "scale": {"domain": [0.69386, 0.72847], "nice": false, "zero": false}}, "y2": {"datum": 0.71568}}},
{"data": {"values": [{}]}, "mark": {"type": "text", "text": "0.7159", "align": "center", "baseline": "middle", "fontSize": 7, "color": "#e86060"},
 "encoding": {"x": {"datum": 230.1, "type": "quantitative", "scale": {"domain": [-3.6, 225.9], "nice": false, "zero": false}},
  "y": {"datum": 0.71599, "type": "quantitative", "scale": {"domain": [0.69386, 0.72847], "nice": false, "zero": false}}}}
]},
{"layer": [
{"data": {"name": "candles"}, "mark": {"type": "bar", "width": 2.4},
 "encoding": {"x": {"field": "t", "type": "quantitative", "scale": {"domain": [-3.6, 225.9], "nice": false, "zero": false}},
  "y": {"field": "v", "type": "quantitative", "scale": {"domain": [-1275, 49020], "nice": false, "zero": false},
   "axis": {"title": null, "orient": "right", "values": [0, 2500, 5000], "tickCount": 50, "format": "d", "grid": true, "gridColor": "#dadada", "domain": false, "tickSize": 3, "tickColor": "#777777", "labelFontSize": 7.5, "labelColor": "#444444", "labelPadding": 2, "labelOverlap": false, "labelExpr": "datum.value == 0 ? '' : datum.label"}},
  "y2": {"datum": 0},
  "color": {"condition": {"test": "datum.c < datum.o", "value": "#d93030"}, "value": "#36a336"}}},
{"data": {"values": [{}]}, "mark": {"type": "rect", "fill": "white", "stroke": "#cccccc", "strokeWidth": 1},
 "encoding": {"x": {"datum": 226.2, "type": "quantitative", "scale": {"domain": [-3.6, 225.9], "nice": false, "zero": false}}, "x2": {"datum": 231.5},
  "y": {"datum": 1225, "type": "quantitative", "scale": {"domain": [-1275, 49020], "nice": false, "zero": false}}, "y2": {"datum": 147}}},
{"data": {"values": [{}]}, "mark": {"type": "text", "text": "660", "align": "center", "baseline": "middle", "fontSize": 7, "color": "#e04848"},
 "encoding": {"x": {"datum": 228.85, "type": "quantitative", "scale": {"domain": [-3.6, 225.9], "nice": false, "zero": false}},
  "y": {"datum": 686, "type": "quantitative", "scale": {"domain": [-1275, 49020], "nice": false, "zero": false}}}}
]}
],
"resolve": {"scale": {"y": "independent"}}
}
